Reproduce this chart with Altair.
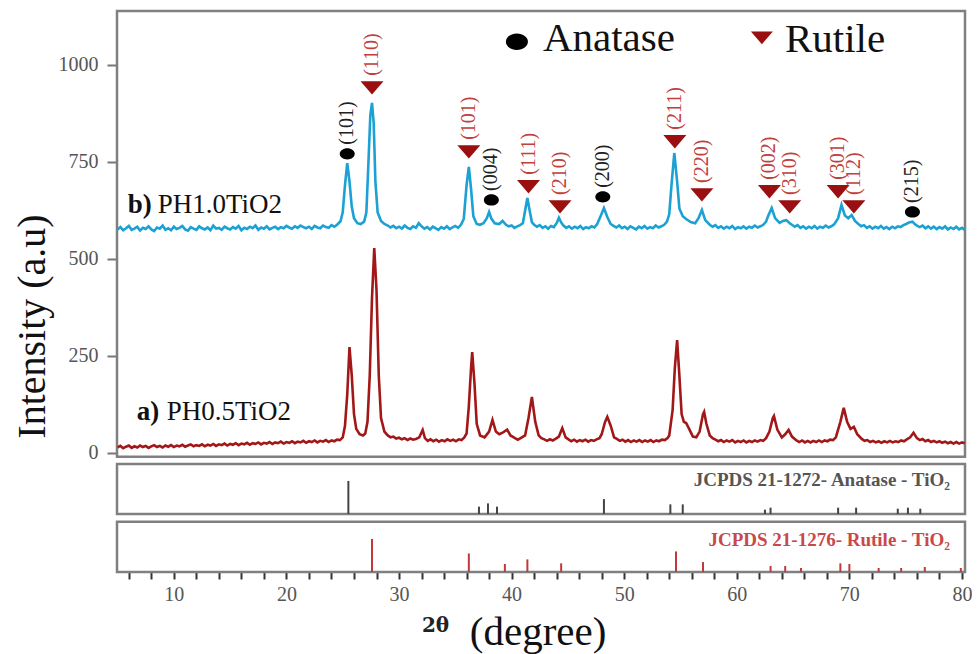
import altair as alt
import pandas as pd

# ---------------- data ----------------
# b) PH1.0TiO2  (2theta, intensity)
pattern_b = [
    (5.0, 576), (5.25, 582), (5.5, 574), (5.75, 579), (6.0, 585), (6.25, 575), (6.5, 578), (6.75, 583),
    (7.0, 573), (7.25, 580), (7.5, 577), (7.75, 584), (8.0, 576), (8.25, 572), (8.5, 581), (8.75, 578),
    (9.0, 586), (9.25, 575), (9.5, 579), (9.75, 574), (10.0, 583), (10.25, 577), (10.5, 580), (10.75, 585),
    (11.0, 576), (11.25, 573), (11.5, 582), (11.75, 578), (12.0, 575), (12.25, 584), (12.5, 579), (12.75, 576),
    (13.0, 581), (13.25, 574), (13.5, 586), (13.75, 578), (14.0, 580), (14.25, 575), (14.5, 583), (14.75, 579),
    (15.0, 576), (15.25, 582), (15.5, 578), (15.75, 585), (16.0, 574), (16.25, 580), (16.5, 577), (16.75, 583),
    (17.0, 579), (17.25, 586), (17.5, 575), (17.75, 581), (18.0, 578), (18.25, 584), (18.5, 576), (18.75, 580),
    (19.0, 583), (19.25, 577), (19.5, 582), (19.75, 579), (20.0, 585), (20.25, 581), (20.5, 578), (20.75, 584),
    (21.0, 580), (21.25, 586), (21.5, 582), (21.75, 579), (22.0, 583), (22.25, 577), (22.5, 585), (22.75, 581),
    (23.0, 579), (23.25, 586), (23.5, 582), (23.75, 580), (24.0, 587), (24.25, 583), (24.5, 588),
    (24.8, 597), (25.0, 620), (25.2, 690), (25.4, 747), (25.6, 700), (25.8, 635), (26.0, 605), (26.3, 592),
    (26.6, 590), (26.9, 596), (27.1, 620), (27.3, 760), (27.45, 870), (27.6, 902), (27.75, 850), (27.9, 700),
    (28.1, 620), (28.4, 598), (28.7, 590),
    (29.0, 586), (29.25, 581), (29.5, 585), (29.75, 579), (30.0, 583), (30.25, 578), (30.5, 586), (30.75, 580),
    (31.0, 577), (31.25, 584), (31.5, 580), (31.75, 592), (32.0, 584), (32.25, 578), (32.5, 582), (32.75, 576),
    (33.0, 583), (33.25, 579), (33.5, 575), (33.75, 582), (34.0, 578), (34.25, 584), (34.5, 577), (34.75, 581),
    (35.0, 585), (35.25, 580), (35.5, 588), (35.75, 603),
    (36.0, 690), (36.2, 737), (36.4, 680), (36.6, 610), (36.9, 590), (37.2, 588), (37.5, 592), (37.8, 605),
    (38.0, 621), (38.2, 604), (38.5, 592), (38.9, 590), (39.2, 598),
    (39.5, 588), (39.75, 584), (40.0, 586), (40.25, 580), (40.5, 584), (40.75, 587), (41.0, 592),
    (41.2, 625), (41.4, 657), (41.6, 625), (41.8, 595),
    (42.0, 588), (42.25, 583), (42.5, 587), (42.75, 580), (43.0, 584), (43.25, 578), (43.5, 585), (43.75, 582),
    (44.0, 592), (44.2, 606), (44.4, 594),
    (44.6, 586), (44.85, 580), (45.1, 584), (45.35, 578), (45.6, 583), (45.85, 579), (46.1, 585), (46.35, 577),
    (46.6, 582), (46.85, 579), (47.1, 584), (47.35, 581), (47.6, 590),
    (47.9, 610), (48.2, 631), (48.5, 608),
    (48.8, 590), (49.05, 585), (49.3, 581), (49.55, 586), (49.8, 579), (50.05, 583), (50.3, 577), (50.55, 584),
    (50.8, 580), (51.05, 576), (51.3, 583), (51.55, 579), (51.8, 585), (52.05, 578), (52.3, 582), (52.55, 579),
    (52.8, 586), (53.05, 581), (53.3, 584), (53.55, 588), (53.8, 596),
    (54.0, 615), (54.2, 690), (54.45, 773), (54.7, 700), (54.9, 630), (55.2, 610), (55.5, 603), (55.9, 595),
    (56.3, 592), (56.6, 605), (56.9, 626), (57.2, 600),
    (57.6, 588), (57.85, 583), (58.1, 587), (58.35, 580), (58.6, 584), (58.85, 578), (59.1, 583), (59.35, 579),
    (59.6, 585), (59.85, 577), (60.1, 582), (60.35, 579), (60.6, 584), (60.85, 578), (61.1, 583), (61.35, 580),
    (61.6, 586), (61.85, 581), (62.1, 584), (62.35, 588), (62.6, 596),
    (62.8, 612), (63.1, 631), (63.4, 605), (63.8, 593), (64.1, 598), (64.4, 600), (64.7, 592),
    (64.9, 588), (65.15, 583), (65.4, 587), (65.65, 580), (65.9, 584), (66.15, 578), (66.4, 583), (66.65, 579),
    (66.9, 585), (67.15, 578), (67.4, 583), (67.65, 580), (67.9, 586), (68.15, 581), (68.4, 584), (68.65, 589),
    (69.0, 605), (69.3, 639), (69.6, 612), (69.9, 605), (70.2, 613), (70.5, 598),
    (70.8, 590), (71.05, 584), (71.3, 587), (71.55, 580), (71.8, 584), (72.05, 578), (72.3, 583), (72.55, 579),
    (72.8, 585), (73.05, 578), (73.3, 582), (73.55, 577), (73.8, 583), (74.05, 579), (74.3, 584), (74.55, 582),
    (74.8, 587), (75.05, 590), (75.3, 594), (75.6, 596), (75.8, 590),
    (76.0, 586), (76.25, 582), (76.5, 586), (76.75, 579), (77.0, 584), (77.25, 578), (77.5, 583), (77.75, 577),
    (78.0, 582), (78.25, 578), (78.5, 584), (78.75, 576), (79.0, 581), (79.25, 577), (79.5, 583), (79.75, 576),
    (80.0, 580), (80.25, 575),
]

# a) PH0.5TiO2  (2theta, intensity)
pattern_a = [
    (5.0, 14), (5.25, 18), (5.5, 12), (5.75, 16), (6.0, 19), (6.25, 13), (6.5, 17), (6.75, 14),
    (7.0, 19), (7.25, 15), (7.5, 18), (7.75, 13), (8.0, 17), (8.25, 20), (8.5, 15), (8.75, 18),
    (9.0, 14), (9.25, 19), (9.5, 16), (9.75, 20), (10.0, 15), (10.25, 19), (10.5, 17), (10.75, 21),
    (11.0, 16), (11.25, 19), (11.5, 22), (11.75, 17), (12.0, 20), (12.25, 18), (12.5, 22), (12.75, 17),
    (13.0, 21), (13.25, 19), (13.5, 23), (13.75, 18), (14.0, 22), (14.25, 20), (14.5, 24), (14.75, 19),
    (15.0, 23), (15.25, 21), (15.5, 25), (15.75, 20), (16.0, 24), (16.25, 22), (16.5, 26), (16.75, 21),
    (17.0, 25), (17.25, 23), (17.5, 27), (17.75, 22), (18.0, 26), (18.25, 24), (18.5, 28), (18.75, 23),
    (19.0, 27), (19.25, 25), (19.5, 29), (19.75, 24), (20.0, 28), (20.25, 26), (20.5, 30), (20.75, 25),
    (21.0, 29), (21.25, 27), (21.5, 31), (21.75, 26), (22.0, 30), (22.25, 28), (22.5, 32), (22.75, 27),
    (23.0, 31), (23.25, 29), (23.5, 33), (23.75, 28), (24.0, 32), (24.25, 30), (24.5, 34), (24.75, 33),
    (25.0, 40), (25.2, 70), (25.4, 150), (25.6, 273), (25.8, 200), (26.0, 100), (26.2, 62), (26.5, 48),
    (26.8, 45), (27.0, 50), (27.2, 80), (27.4, 200), (27.6, 400), (27.8, 528), (28.0, 420), (28.2, 200),
    (28.4, 90), (28.7, 55),
    (29.0, 45), (29.25, 40), (29.5, 42), (29.75, 37), (30.0, 39), (30.25, 35), (30.5, 38), (30.75, 33),
    (31.0, 37), (31.25, 34), (31.5, 36), (31.8, 40), (32.1, 59), (32.3, 38), (32.55, 31), (32.8, 35),
    (33.05, 30), (33.3, 34), (33.55, 29), (33.8, 33), (34.05, 30), (34.3, 35), (34.55, 31), (34.8, 34),
    (35.05, 30), (35.3, 35), (35.55, 33), (35.8, 40),
    (36.0, 50), (36.2, 120), (36.4, 220), (36.5, 260), (36.7, 180), (36.9, 75), (37.2, 45), (37.6, 40),
    (38.0, 55), (38.3, 85), (38.6, 55), (38.9, 48), (39.2, 52), (39.6, 60), (39.9, 45), (40.3, 38),
    (40.55, 34), (40.8, 38), (41.2, 45), (41.5, 90), (41.8, 144), (42.1, 80),
    (42.4, 45), (42.65, 38), (42.9, 35), (43.15, 31), (43.4, 35), (43.65, 32), (43.9, 36), (44.2, 42),
    (44.5, 64), (44.8, 40), (45.05, 35), (45.3, 30), (45.55, 34), (45.8, 29), (46.05, 33), (46.3, 30),
    (46.55, 34), (46.8, 29), (47.05, 33), (47.3, 31), (47.55, 35), (47.8, 38),
    (48.0, 48), (48.3, 80), (48.5, 93), (48.8, 70),
    (49.1, 40), (49.35, 36), (49.6, 31), (49.85, 34), (50.1, 29), (50.35, 33), (50.6, 28), (50.85, 32),
    (51.1, 29), (51.35, 33), (51.6, 28), (51.85, 32), (52.1, 29), (52.35, 33), (52.6, 28), (52.85, 32),
    (53.1, 30), (53.35, 34), (53.6, 33), (53.85, 38),
    (54.0, 45), (54.3, 110), (54.5, 220), (54.7, 291), (54.9, 200), (55.1, 100), (55.3, 80), (55.5, 77),
    (55.8, 60), (56.1, 42), (56.4, 40), (56.7, 55), (57.0, 100), (57.1, 106), (57.3, 75),
    (57.6, 45), (57.85, 38), (58.1, 34), (58.35, 30), (58.6, 33), (58.85, 28), (59.1, 32), (59.35, 29),
    (59.6, 33), (59.85, 27), (60.1, 31), (60.35, 28), (60.6, 32), (60.85, 27), (61.1, 31), (61.35, 28),
    (61.6, 32), (61.85, 29), (62.1, 33), (62.35, 31), (62.6, 38),
    (62.9, 55), (63.2, 90), (63.3, 95), (63.6, 60), (64.0, 40), (64.3, 48), (64.6, 59), (64.9, 42),
    (65.3, 32), (65.55, 28), (65.8, 32), (66.05, 27), (66.3, 31), (66.55, 27), (66.8, 31), (67.05, 28),
    (67.3, 32), (67.55, 28), (67.8, 32), (68.05, 30), (68.3, 34), (68.55, 33),
    (68.8, 40), (69.2, 80), (69.5, 116), (69.8, 80), (70.1, 62), (70.4, 67), (70.7, 48),
    (71.1, 36), (71.35, 31), (71.6, 33), (71.85, 28), (72.1, 31), (72.35, 27), (72.6, 30), (72.85, 26),
    (73.1, 30), (73.35, 27), (73.6, 31), (73.85, 27), (74.1, 30), (74.35, 28), (74.6, 32), (74.85, 30),
    (75.1, 35), (75.4, 40), (75.7, 52),
    (76.0, 38), (76.25, 33), (76.5, 36), (76.75, 30), (77.0, 33), (77.25, 28), (77.5, 31), (77.75, 27),
    (78.0, 30), (78.25, 26), (78.5, 29), (78.75, 25), (79.0, 28), (79.25, 24), (79.5, 28), (79.75, 24),
    (80.0, 27), (80.25, 25),
]

# reference stick patterns (2theta, relative intensity %)
anatase_pos = [25.5, 37.1, 37.9, 38.7, 48.2, 54.1, 55.2, 62.5, 63.0, 69.0, 70.6, 74.3, 75.2, 76.3]
anatase_rel = [100, 22, 32, 22, 45, 29, 29, 13, 19, 19, 19, 16, 19, 16]
rutile_pos = [27.6, 36.2, 39.4, 41.4, 44.4, 54.6, 57.0, 63.0, 64.3, 65.7, 69.2, 70.0, 72.6, 74.6, 76.7, 79.9]
rutile_rel = [100, 56, 24, 38, 26, 62, 30, 18, 18, 12, 26, 24, 12, 12, 15, 12]

# peak markers (hkl, 2theta, marker height)
anatase_hkl = ["(101)", "(004)", "(200)", "(215)"]
anatase_hkl_x = [25.4, 38.2, 48.1, 75.6]
anatase_hkl_y = [771, 652, 660, 621]
rutile_hkl = ["(110)", "(101)", "(111)", "(210)", "(211)", "(220)", "(002)", "(310)", "(301)", "(112)"]
rutile_hkl_x = [27.6, 36.2, 41.5, 44.3, 54.5, 56.9, 62.9, 64.7, 69.0, 70.4]
rutile_hkl_y = [941, 776, 686, 634, 802, 665, 673, 634, 673, 634]

y_ticks = [0, 250, 500, 750, 1000]
x_ticks = list(range(6, 81, 2))

# ---------------- layout constants (data units) ----------------
X0, X1 = 4.95, 80.27
Y0, Y1 = -307, 1139
MAIN = (-10, 1139)
ANA = (-157.3, -28.4)
RUT = (-306.8, -177.8)
STICK_K = 0.85

SERIF = "Liberation Serif"
BLUE = "#1ba1d3"
DARKRED = "#a21818"
TRI_RED = "#9a0f0f"
LBL_RED = "#c0403e"

xs = alt.Scale(domain=[X0, X1], nice=False, zero=False)
ys = alt.Scale(domain=[Y0, Y1], nice=False, zero=False)

x_axis = alt.Axis(values=x_ticks, labelExpr="datum.value % 10 === 0 ? datum.label : ''",
                  domain=False, grid=False, tickSize=7, tickWidth=2, tickColor="#333333",
                  labelColor="#555555", labelFont=SERIF, labelFontSize=20, labelPadding=5,
                  labelFlush=False, title="")
y_axis = alt.Axis(values=y_ticks, format="d", domain=False, grid=False, tickSize=10, tickWidth=2,
                  tickColor="#777777", labelColor="#555555", labelFont=SERIF, labelFontSize=20,
                  labelPadding=9, labelFlush=False,
                  title="Intensity (a.u)", titleFont=SERIF, titleFontSize=40, titleFontWeight="normal",
                  titleColor="#111111", titleAngle=270, titleX=-85, titleY=315,
                  titleAlign="center", titleBaseline="middle")


def X(field):
    return alt.X(field, type="quantitative", scale=xs, axis=x_axis)


def Y(field):
    return alt.Y(field, type="quantitative", scale=ys, axis=y_axis)


# frames
frames = pd.DataFrame({
    "x": [X0, X0, X0], "x2": [X1, X1, X1],
    "y": [MAIN[0], ANA[0], RUT[0]], "y2": [MAIN[1], ANA[1], RUT[1]],
})
frame_layer = alt.Chart(frames).mark_rect(fillOpacity=0, stroke="#808080", strokeWidth=2.5).encode(
    x=X("x"), x2="x2", y=Y("y"), y2="y2")

# sticks
ana_df = pd.DataFrame({"x": anatase_pos, "rel": anatase_rel})
rut_df = pd.DataFrame({"x": rutile_pos, "rel": rutile_rel})
ana_sticks = alt.Chart(ana_df).transform_calculate(
    y=f"{ANA[0]}", y2=f"{ANA[0]} + datum.rel * {STICK_K}"
).mark_rule(color="#444444", strokeWidth=2).encode(x=X("x"), y=Y("y"), y2="y2")
rut_sticks = alt.Chart(rut_df).transform_calculate(
    y=f"{RUT[0]}", y2=f"{RUT[0]} + datum.rel * {STICK_K}"
).mark_rule(color="#c0393b", strokeWidth=2).encode(x=X("x"), y=Y("y"), y2="y2")

# patterns
df_b = pd.DataFrame(pattern_b, columns=["x", "y"])
df_a = pd.DataFrame(pattern_a, columns=["x", "y"])
line_b = alt.Chart(df_b).mark_line(color=BLUE, strokeWidth=2.6).encode(x=X("x"), y=Y("y"))
line_a = alt.Chart(df_a).mark_line(color=DARKRED, strokeWidth=2.6).encode(x=X("x"), y=Y("y"))

ELLIPSE = "M-1,0 A1,0.75,0,1,1,1,0 A1,0.75,0,1,1,-1,0 Z"
TRIANGLE = "M-1,-0.58 L1,-0.58 L0,0.58 Z"

ana_mk = pd.DataFrame({"x": anatase_hkl_x, "y": anatase_hkl_y, "t": anatase_hkl})
rut_mk = pd.DataFrame({"x": rutile_hkl_x, "y": rutile_hkl_y, "t": rutile_hkl})

ana_pts = alt.Chart(ana_mk).mark_point(shape=ELLIPSE, filled=True, color="#000000", size=225, opacity=1).encode(
    x=X("x"), y=Y("y"))
rut_pts = alt.Chart(rut_mk).mark_point(shape=TRIANGLE, filled=True, color=TRI_RED, size=529, opacity=1).encode(
    x=X("x"), y=Y("y"))
ana_txt = alt.Chart(ana_mk).mark_text(font=SERIF, fontSize=20, angle=270, align="left", baseline="middle",
                                       dx=9, color="#222222").encode(x=X("x"), y=Y("y"), text="t")
rut_txt = alt.Chart(rut_mk).mark_text(font=SERIF, fontSize=20, angle=270, align="left", baseline="middle",
                                       dx=12, color=LBL_RED).encode(x=X("x"), y=Y("y"), text="t")

# legend
legend_names = ["Anatase", "Rutile"]
legend_df = pd.DataFrame({"x": [42.78, 64.28], "y": [1036, 1034], "t": legend_names})
legend_txt = alt.Chart(legend_df).mark_text(font=SERIF, fontSize=41, align="left", baseline="alphabetic",
                                            color="#111111").encode(x=X("x"), y=Y("y"), text="t")
leg_ell = alt.Chart(pd.DataFrame({"x": [40.47], "y": [1060]})).mark_point(
    shape=ELLIPSE, filled=True, color="#000000", size=484, opacity=1).encode(x=X("x"), y=Y("y"))
leg_tri = alt.Chart(pd.DataFrame({"x": [62.23], "y": [1070]})).mark_point(
    shape=TRIANGLE, filled=True, color=TRI_RED, size=484, opacity=1).encode(x=X("x"), y=Y("y"))

# sample names
sample_tag = ["b)", "a)"]
sample_name = ["PH1.0TiO2", "PH0.5TiO2"]
sample_df = pd.DataFrame({"x": [5.9, 6.7], "y": [619, 85], "tag": sample_tag, "name": sample_name})
tag_txt = alt.Chart(sample_df).mark_text(font=SERIF, fontSize=27, fontWeight="bold", align="left",
                                         baseline="alphabetic", color="#111111").encode(
    x=X("x"), y=Y("y"), text="tag")
name_txt = alt.Chart(sample_df).mark_text(font=SERIF, fontSize=27, align="left", baseline="alphabetic",
                                          dx=30, color="#111111").encode(x=X("x"), y=Y("y"), text="name")

# JCPDS card labels
card_text = ["JCPDS 21-1272- Anatase - TiO\u2082", "JCPDS 21-1276- Rutile - TiO\u2082"]
card_df = pd.DataFrame({"x": [78.93, 78.93], "y": [-69.6, -224.3], "t": card_text, "c": ["a", "r"]})
card_txt = alt.Chart(card_df).mark_text(font=SERIF, fontSize=19, fontWeight="bold", align="right",
                                        baseline="middle").encode(
    x=X("x"), y=Y("y"), text="t",
    color=alt.Color("c:N", scale=alt.Scale(domain=["a", "r"], range=["#555555", "#c8494b"]), legend=None))

# x-axis title
xt_df = pd.DataFrame({"x": [32.03, 36.29], "y": [-461.5, -495], "t": ["2\u03b8", "(degree)"]})
xt_a = alt.Chart(xt_df.iloc[[0]]).mark_text(font="DejaVu Serif", fontSize=20, fontWeight="bold",
                                            align="left", baseline="alphabetic", color="#222222").encode(
    x=X("x"), y=Y("y"), text="t")
xt_b = alt.Chart(xt_df.iloc[[1]]).mark_text(font=SERIF, fontSize=41, align="left", baseline="alphabetic",
                                            color="#111111").encode(x=X("x"), y=Y("y"), text="t")

chart = alt.layer(
    frame_layer, ana_sticks, rut_sticks, line_a, line_b,
    ana_pts, rut_pts, ana_txt, rut_txt,
    legend_txt, leg_ell, leg_tri, tag_txt, name_txt, card_txt, xt_a, xt_b,
).properties(
    width=848, height=561,
    autosize=alt.AutoSizeParams(type="none"),
    padding={"left": 109, "top": 3, "right": 7, "bottom": 82},
    background="white",
).configure_view(strokeWidth=0)

chart.save("out.html", embed_options={"renderer": "svg", "actions": False})
